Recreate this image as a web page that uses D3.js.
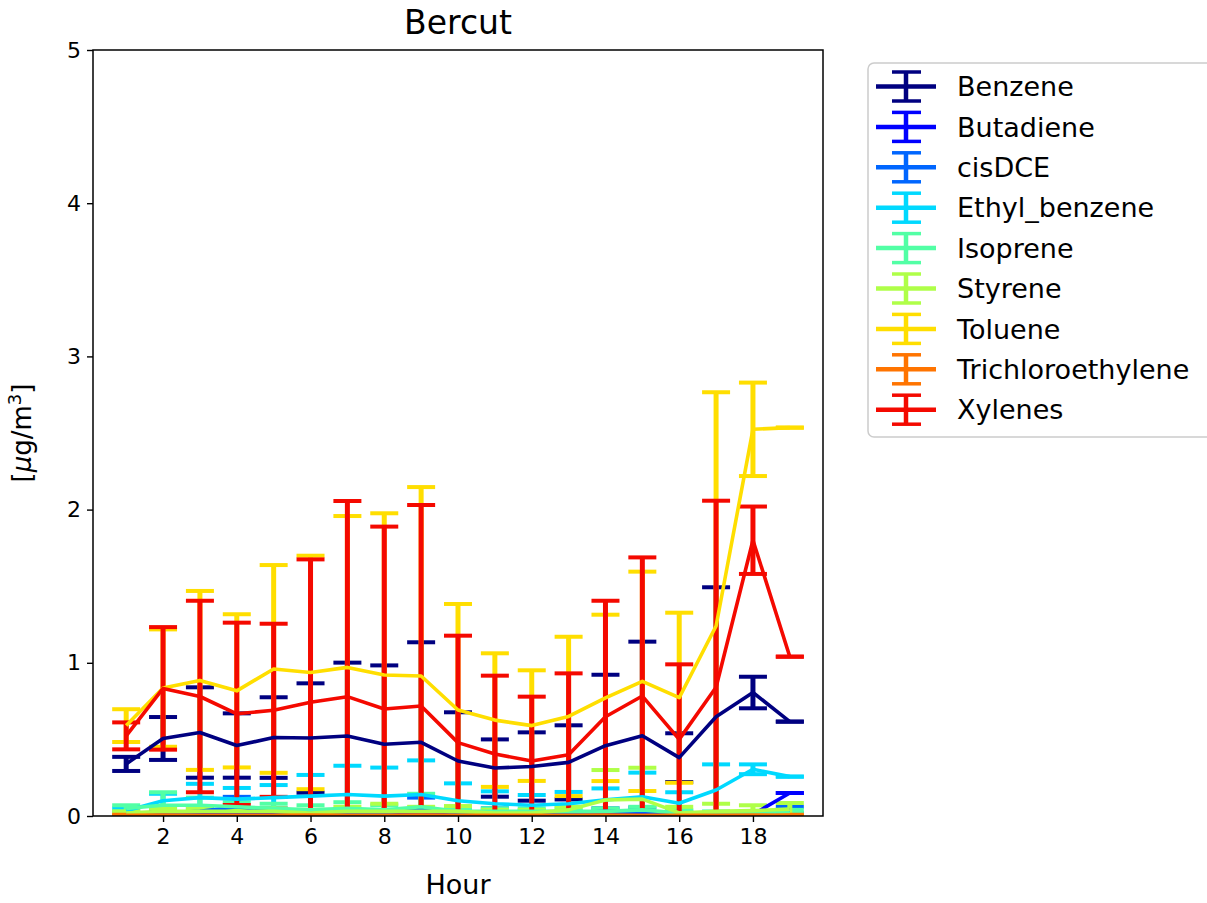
<!DOCTYPE html>
<html>
<head>
<meta charset="utf-8">
<script src="https://cdn.jsdelivr.net/npm/d3@7"></script>
<style>
  body { margin: 0; background: #fff; }
  svg { display: block; font-family: "DejaVu Sans", sans-serif; }
</style>
</head>
<body>
<svg id="chart" width="1207" height="903"></svg>
<script>
// Hourly mean concentrations and their error half-widths, per compound
const hours = [1, 2, 3, 4, 5, 6, 7, 8, 9, 10, 11, 12, 13, 14, 15, 16, 17, 18, 19];

const benzeneMean = [0.34, 0.506, 0.545, 0.46, 0.512, 0.509, 0.522, 0.468, 0.481, 0.359, 0.313, 0.323, 0.35, 0.459, 0.524, 0.381, 0.648, 0.806, 0.616];
const benzeneErr  = [0.046, 0.14, 0.295, 0.21, 0.263, 0.357, 0.479, 0.515, 0.653, 0.318, 0.187, 0.223, 0.242, 0.463, 0.614, 0.159, 0.845, 0.103, 0];

const butadieneMean = [0.01, 0.01, 0.012, 0.01, 0.01, 0.012, 0.015, 0.02, 0.018, 0.01, 0.01, 0.012, 0.01, 0.01, 0.012, 0.01, 0.008, 0.01, 0.15];
const butadieneErr  = [0.005, 0.006, 0.006, 0.005, 0.005, 0.006, 0.008, 0.01, 0.01, 0.005, 0.005, 0.006, 0.005, 0.005, 0.006, 0.005, 0.004, 0.005, 0];

const cisDCEMean = [0.01, 0.02, 0.03, 0.06, 0.03, 0.02, 0.02, 0.02, 0.05, 0.02, 0.025, 0.02, 0.02, 0.03, 0.03, 0.02, 0.01, 0.01, 0.04];
const cisDCEErr  = [0.01, 0.01, 0.02, 0.065, 0.02, 0.01, 0.012, 0.01, 0.07, 0.01, 0.025, 0.01, 0.01, 0.02, 0.025, 0.01, 0.01, 0.01, 0.02];

const ethylBenzeneMean = [0.035, 0.10, 0.12, 0.11, 0.12, 0.13, 0.14, 0.13, 0.14, 0.10, 0.08, 0.07, 0.08, 0.105, 0.125, 0.083, 0.17, 0.305, 0.257];
const ethylBenzeneErr  = [0.015, 0.045, 0.09, 0.073, 0.082, 0.138, 0.188, 0.186, 0.223, 0.113, 0.081, 0.067, 0.077, 0.075, 0.158, 0.072, 0.167, 0.032, 0];

const isopreneMean = [0.05, 0.07, 0.07, 0.06, 0.05, 0.04, 0.05, 0.04, 0.06, 0.03, 0.03, 0.03, 0.03, 0.03, 0.04, 0.02, 0.02, 0.02, 0.03];
const isopreneErr  = [0.02, 0.085, 0.05, 0.03, 0.03, 0.03, 0.04, 0.03, 0.085, 0.02, 0.02, 0.02, 0.02, 0.02, 0.02, 0.02, 0.01, 0.01, 0.01];

const styreneMean = [0.02, 0.03, 0.03, 0.03, 0.03, 0.02, 0.03, 0.03, 0.03, 0.03, 0.02, 0.02, 0.04, 0.104, 0.11, 0.02, 0.03, 0.035, 0.045];
const styreneErr  = [0.01, 0.02, 0.02, 0.02, 0.02, 0.02, 0.03, 0.05, 0.03, 0.035, 0.02, 0.02, 0.02, 0.196, 0.205, 0.04, 0.05, 0.035, 0.04];

const tolueneMean = [0.59, 0.835, 0.885, 0.817, 0.96, 0.937, 0.97, 0.92, 0.914, 0.692, 0.626, 0.59, 0.65, 0.771, 0.879, 0.772, 1.24, 2.524, 2.535];
const tolueneErr  = [0.107, 0.383, 0.584, 0.50, 0.678, 0.762, 0.988, 1.056, 1.233, 0.692, 0.436, 0.361, 0.52, 0.543, 0.716, 0.555, 1.526, 0.305, 0];

const trichloroMean = [0.005, 0.006, 0.005, 0.004, 0.005, 0.006, 0.005, 0.005, 0.006, 0.004, 0.005, 0.004, 0.005, 0.006, 0.005, 0.004, 0.005, 0.006, 0.005];
const trichloroErr  = [0.003, 0.003, 0.003, 0.002, 0.003, 0.003, 0.003, 0.003, 0.003, 0.002, 0.003, 0.002, 0.003, 0.003, 0.003, 0.002, 0.003, 0.003, 0.003];

const xylenesMean = [0.523, 0.833, 0.78, 0.667, 0.69, 0.742, 0.779, 0.698, 0.718, 0.479, 0.405, 0.359, 0.40, 0.648, 0.783, 0.50, 0.84, 1.80, 1.04];
const xylenesErr  = [0.088, 0.40, 0.625, 0.595, 0.565, 0.933, 1.277, 1.191, 1.312, 0.698, 0.511, 0.42, 0.531, 0.757, 0.905, 0.49, 1.218, 0.22, 0];

const seriesNames  = ["Benzene", "Butadiene", "cisDCE", "Ethyl_benzene", "Isoprene", "Styrene", "Toluene", "Trichloroethylene", "Xylenes"];
const seriesColors = ["#000080", "#0000ff", "#0066ff", "#00d9ff", "#52ffa5", "#afff48", "#ffde00", "#ff7400", "#f40900"];
const seriesMeans  = [benzeneMean, butadieneMean, cisDCEMean, ethylBenzeneMean, isopreneMean, styreneMean, tolueneMean, trichloroMean, xylenesMean];
const seriesErrs   = [benzeneErr, butadieneErr, cisDCEErr, ethylBenzeneErr, isopreneErr, styreneErr, tolueneErr, trichloroErr, xylenesErr];

const xTicks = [2, 4, 6, 8, 10, 12, 14, 16, 18];
const yTicks = [0, 1, 2, 3, 4, 5];

const titleText = "Bercut";
const xLabelText = "Hour";

// ---- layout ----
const plot = { left: 93, right: 823, top: 50, bottom: 816 };
const svg = d3.select("#chart");

const x = d3.scaleLinear().domain([0.1, 19.9]).range([plot.left, plot.right]);
const y = d3.scaleLinear().domain([0, 5]).range([plot.bottom, plot.top]);

const series = seriesNames.map((name, i) => ({
  name,
  color: seriesColors[i],
  points: hours.map((h, j) => ({ h, mean: seriesMeans[i][j], err: seriesErrs[i][j] }))
}));

svg.append("defs").append("clipPath").attr("id", "plot-clip")
  .append("rect")
  .attr("x", plot.left).attr("y", plot.top)
  .attr("width", plot.right - plot.left).attr("height", plot.bottom - plot.top);

const body = svg.append("g").attr("clip-path", "url(#plot-clip)");

const capHalf = 14;
const barWidth = 5;
const capWidth = 4;
const lineWidth = 3.6;

// error bars and caps sit beneath every mean line
series.forEach(s => {
  const g = body.append("g");
  g.selectAll("line.bar").data(s.points).join("line")
    .attr("class", "bar")
    .attr("x1", d => x(d.h)).attr("x2", d => x(d.h))
    .attr("y1", d => y(d.mean - d.err)).attr("y2", d => y(d.mean + d.err))
    .attr("stroke", s.color).attr("stroke-width", barWidth);
  [-1, 1].forEach(sign => {
    g.selectAll("line.cap" + (sign > 0 ? "u" : "l")).data(s.points).join("line")
      .attr("class", "cap" + (sign > 0 ? "u" : "l"))
      .attr("x1", d => x(d.h) - capHalf).attr("x2", d => x(d.h) + capHalf)
      .attr("y1", d => y(d.mean + sign * d.err)).attr("y2", d => y(d.mean + sign * d.err))
      .attr("stroke", s.color).attr("stroke-width", capWidth);
  });
});

const lineGen = d3.line().x(d => x(d.h)).y(d => y(d.mean));
series.forEach(s => {
  body.append("path")
    .datum(s.points)
    .attr("d", lineGen)
    .attr("fill", "none")
    .attr("stroke", s.color)
    .attr("stroke-width", lineWidth)
    .attr("stroke-linejoin", "round");
});

// ---- axes ----
const xAxis = svg.append("g")
  .attr("transform", `translate(0,${plot.bottom})`)
  .call(d3.axisBottom(x).tickValues(xTicks).tickSize(6).tickPadding(6).tickFormat(d3.format("d")));
const yAxis = svg.append("g")
  .attr("transform", `translate(${plot.left},0)`)
  .call(d3.axisLeft(y).tickValues(yTicks).tickSize(6).tickPadding(6).tickFormat(d3.format("d")));

[xAxis, yAxis].forEach(a => {
  a.select(".domain").remove();
  a.selectAll(".tick line").attr("stroke", "#000").attr("stroke-width", 1.4);
  a.selectAll(".tick text").attr("fill", "#000").style("font-size", "22px").style("font-family", "DejaVu Sans");
});

svg.append("rect")
  .attr("x", plot.left).attr("y", plot.top)
  .attr("width", plot.right - plot.left).attr("height", plot.bottom - plot.top)
  .attr("fill", "none").attr("stroke", "#000").attr("stroke-width", 1.5);

// ---- titles ----
svg.append("text")
  .attr("x", (plot.left + plot.right) / 2).attr("y", 34)
  .attr("text-anchor", "middle")
  .style("font-size", "33px")
  .text(titleText);

svg.append("text")
  .attr("x", (plot.left + plot.right) / 2).attr("y", 894)
  .attr("text-anchor", "middle")
  .style("font-size", "27px")
  .text(xLabelText);

const yl = svg.append("text")
  .attr("transform", `translate(31,${(plot.top + plot.bottom) / 2}) rotate(-90)`)
  .attr("text-anchor", "middle")
  .style("font-size", "26px");
yl.append("tspan").text("[");
yl.append("tspan").style("font-style", "italic").text("μ");
yl.append("tspan").text("g/m");
yl.append("tspan").attr("dy", -10).style("font-size", "18px").text("3");
yl.append("tspan").attr("dy", 10).text("]");

// ---- legend ----
const legend = svg.append("g").attr("transform", "translate(868,63)");
legend.append("rect")
  .attr("x", 0).attr("y", 0).attr("width", 360).attr("height", 374)
  .attr("rx", 6)
  .attr("fill", "#fff").attr("fill-opacity", 0.8)
  .attr("stroke", "#cccccc").attr("stroke-width", 1.5);

const rowStep = 40.4;
series.forEach((s, i) => {
  const cy = 23.5 + i * rowStep;
  const g = legend.append("g").attr("transform", `translate(0,${cy})`);
  g.append("line").attr("x1", 8).attr("x2", 68).attr("y1", 0).attr("y2", 0)
    .attr("stroke", s.color).attr("stroke-width", 4.5);
  g.append("line").attr("x1", 38).attr("x2", 38).attr("y1", -14.5).attr("y2", 14.5)
    .attr("stroke", s.color).attr("stroke-width", 4.5);
  [-14.5, 14.5].forEach(dy => {
    g.append("line").attr("x1", 24).attr("x2", 53).attr("y1", dy).attr("y2", dy)
      .attr("stroke", s.color).attr("stroke-width", 3.5);
  });
  g.append("text").attr("x", 89).attr("y", 0).attr("dy", "0.36em")
    .style("font-size", "27px")
    .text(s.name);
});
</script>
</body>
</html>
